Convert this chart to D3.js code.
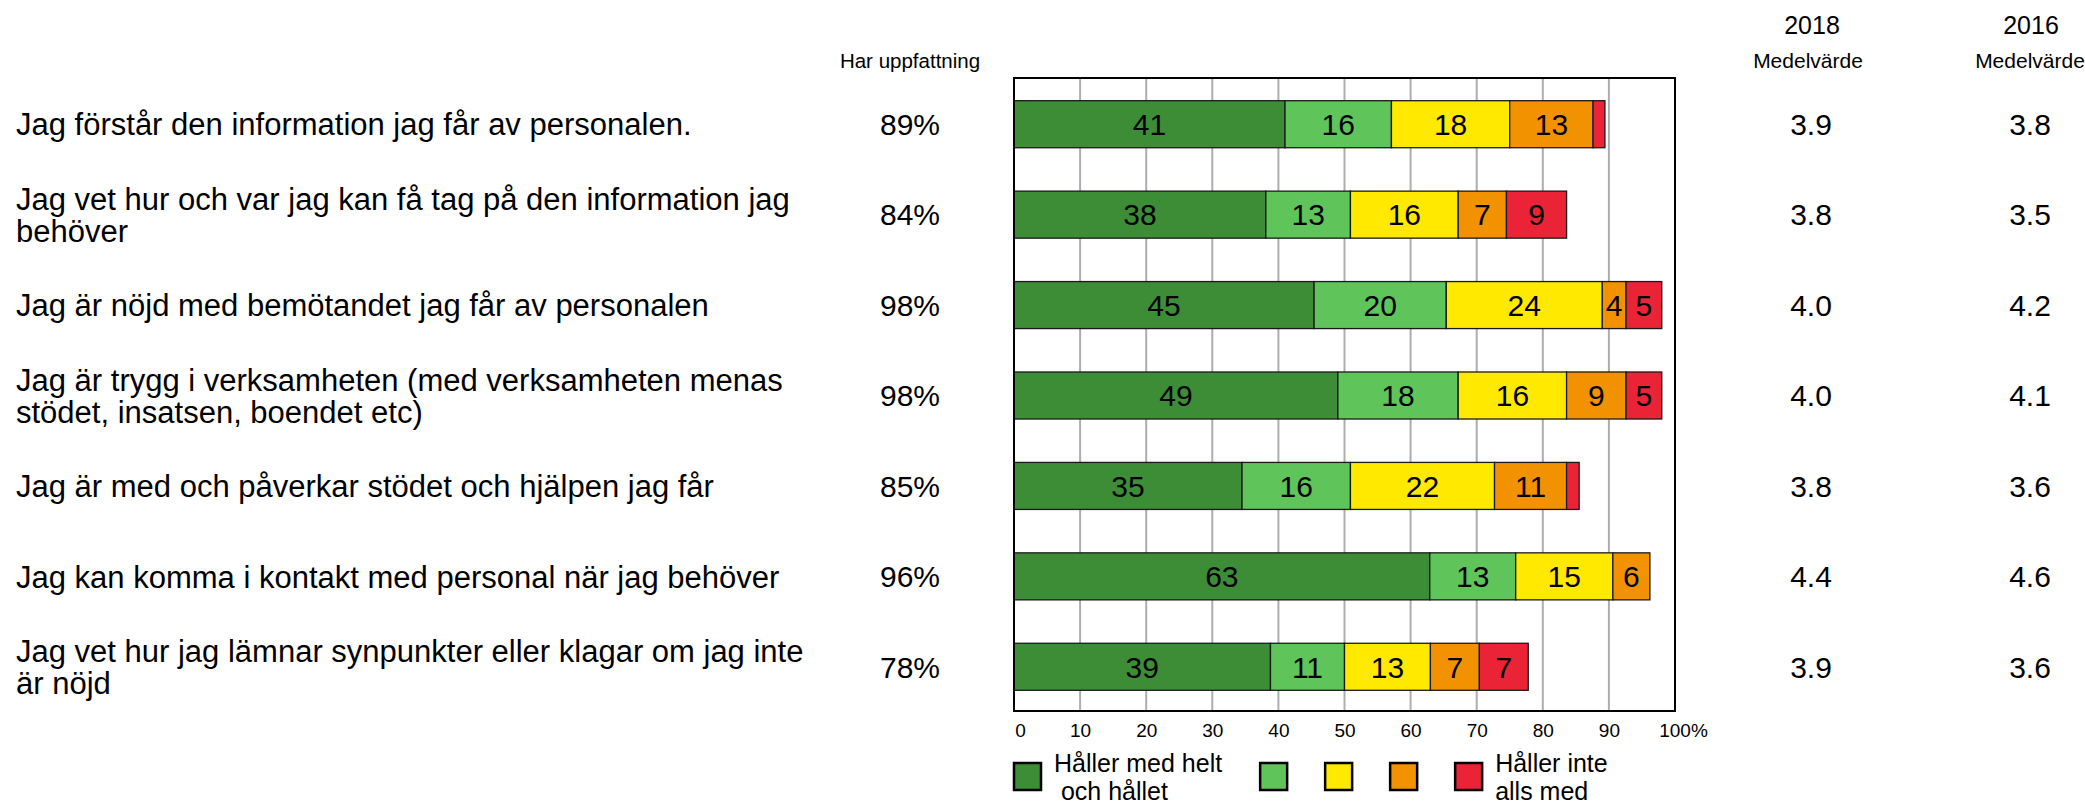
<!DOCTYPE html>
<html>
<head>
<meta charset="utf-8">
<script src="https://cdn.jsdelivr.net/npm/d3@7"></script>
<style>
  body { margin: 0; background: #fff; }
  svg text { font-family: "Liberation Sans", Arial, sans-serif; fill: #000; }
</style>
</head>
<body>
<svg id="chart" width="2085" height="804"></svg>
<script>

// questions, one or two lines each
var categories = [
  ["Jag förstår den information jag får av personalen."],
  ["Jag vet hur och var jag kan få tag på den information jag", "behöver"],
  ["Jag är nöjd med bemötandet jag får av personalen"],
  ["Jag är trygg i verksamheten (med verksamheten menas", "stödet, insatsen, boendet etc)"],
  ["Jag är med och påverkar stödet och hjälpen jag får"],
  ["Jag kan komma i kontakt med personal när jag behöver"],
  ["Jag vet hur jag lämnar synpunkter eller klagar om jag inte", "är nöjd"]
]

// answer shares in percent, from "helt och hållet" down to "inte alls"
var level1 = [41.0, 38.1, 45.4, 49.0, 34.5, 62.9, 38.8]
var level2 = [16.1, 12.8, 20.0, 18.2, 16.4, 13.0, 11.2]
var level3 = [17.9, 16.3, 23.6, 16.4, 21.8, 14.7, 13.0]
var level4 = [12.6, 7.3, 3.6, 9.0, 10.9, 5.6, 7.4]
var level5 = [1.8, 9.1, 5.4, 5.4, 1.9, 0, 7.4]

var har_uppfattning = [89, 84, 98, 98, 85, 96, 78]
var medel_2018 = ["3.9", "3.8", "4.0", "4.0", "3.8", "4.4", "3.9"]
var medel_2016 = ["3.8", "3.5", "4.2", "4.1", "3.6", "4.6", "3.6"]

var x_ticks = [0, 10, 20, 30, 40, 50, 60, 70, 80, 90, 100]
var legend_labels = [["Håller med helt", " och hållet"], [], [], [], ["Håller inte", "alls med"]]
var colors = ["#3d8d36", "#5fc55a", "#ffe900", "#f39200", "#ea2436"]

var keys = ["l1", "l2", "l3", "l4", "l5"]
var rows = categories.map(function(c, i){
  return {idx: i, l1: level1[i], l2: level2[i], l3: level3[i], l4: level4[i], l5: level5[i]}
})

var svg = d3.select("#chart")

var plot_top = 78, plot_bottom = 711
var x = d3.scaleLinear().domain([0, 100]).range([1014, 1675])
var y = d3.scaleBand().domain(d3.range(categories.length))
  .range([plot_top + 1, plot_bottom + 1])
  .paddingInner(0.48).paddingOuter(0.24)

// gridlines
svg.append("g").selectAll("line")
  .data(x_ticks.filter(function(d){ return d > 0 && d < 100 }))
  .join("line")
    .attr("x1", function(d){ return x(d) })
    .attr("x2", function(d){ return x(d) })
    .attr("y1", plot_top)
    .attr("y2", plot_bottom)
    .attr("stroke", "#adadad")
    .attr("stroke-width", 2)

// stacked bars
var series = d3.stack().keys(keys)(rows)

var layers = svg.append("g").selectAll("g")
  .data(series)
  .join("g")
    .attr("fill", function(d, i){ return colors[i] })

layers.selectAll("rect")
  .data(function(d){ return d.filter(function(s){ return s[1] - s[0] > 0 }) })
  .join("rect")
    .attr("x", function(d){ return x(d[0]) })
    .attr("y", function(d){ return y(d.data.idx) })
    .attr("width", function(d){ return x(d[1]) - x(d[0]) })
    .attr("height", y.bandwidth())
    .attr("stroke", "#1a1a1a")
    .attr("stroke-width", 1.3)

layers.selectAll("text")
  .data(function(d){ return d.filter(function(s){ return s[1] - s[0] >= 3 }) })
  .join("text")
    .attr("x", function(d){ return (x(d[0]) + x(d[1])) / 2 })
    .attr("y", function(d){ return y(d.data.idx) + y.bandwidth() / 2 })
    .attr("dy", "0.36em")
    .attr("text-anchor", "middle")
    .attr("font-size", 30)
    .text(function(d){ return Math.round(d[1] - d[0]) })

// plot frame
svg.append("rect")
  .attr("x", x(0))
  .attr("y", plot_top)
  .attr("width", x(100) - x(0))
  .attr("height", plot_bottom - plot_top)
  .attr("fill", "none")
  .attr("stroke", "#000")
  .attr("stroke-width", 2)

// x axis
var x_axis = svg.append("g")
  .attr("transform", "translate(0," + plot_bottom + ")")
  .call(d3.axisBottom(x)
    .tickValues(x_ticks)
    .tickSize(0)
    .tickPadding(13)
    .tickFormat(function(d){ return d == 100 ? "100%" : d }))
x_axis.select(".domain").remove()
x_axis.selectAll("text")
  .attr("font-size", 19)
  .attr("font-family", "Liberation Sans, Arial, sans-serif")
  .attr("dx", function(d){ return d == 100 ? 8 : (d == 0 ? 6 : 0) })

// question labels
var row_mid = function(i){ return y(i) + y.bandwidth() / 2 }
var line_h = 32

svg.append("g").selectAll("text")
  .data(categories)
  .join("text")
    .attr("font-size", 31)
    .attr("y", function(d, i){ return row_mid(i) - (d.length - 1) * line_h / 2 })
    .attr("dy", "0.36em")
    .each(function(d){
      var t = d3.select(this)
      d.forEach(function(line, k){
        t.append("tspan")
          .attr("x", 16)
          .attr("dy", k == 0 ? null : line_h)
          .text(line)
      })
    })

// side columns
function column(values, cx, fmt){
  svg.append("g").selectAll("text")
    .data(values)
    .join("text")
      .attr("x", cx)
      .attr("y", function(d, i){ return row_mid(i) })
      .attr("dy", "0.36em")
      .attr("text-anchor", "middle")
      .attr("font-size", 30)
      .text(fmt)
}
column(har_uppfattning, 910, function(d){ return d + "%" })
column(medel_2018, 1811, function(d){ return d })
column(medel_2016, 2030, function(d){ return d })

// headers
svg.append("text").attr("x", 910).attr("y", 68).attr("text-anchor", "middle")
  .attr("font-size", 20.5).text("Har uppfattning")
svg.append("text").attr("x", 1812).attr("y", 34).attr("text-anchor", "middle")
  .attr("font-size", 25).text("2018")
svg.append("text").attr("x", 1808).attr("y", 68).attr("text-anchor", "middle")
  .attr("font-size", 21).text("Medelvärde")
svg.append("text").attr("x", 2031).attr("y", 34).attr("text-anchor", "middle")
  .attr("font-size", 25).text("2016")
svg.append("text").attr("x", 2030).attr("y", 68).attr("text-anchor", "middle")
  .attr("font-size", 21).text("Medelvärde")

// legend
var legend = svg.append("g")
var lx = x(0)
legend_labels.forEach(function(lines, i){
  legend.append("rect")
    .attr("x", lx)
    .attr("y", 763)
    .attr("width", 27)
    .attr("height", 27)
    .attr("fill", colors[i])
    .attr("stroke", "#000")
    .attr("stroke-width", 2.5)
  lx += 27
  if (lines.length) {
    var t = legend.append("text").attr("font-size", 25)
    lines.forEach(function(line, k){
      t.append("tspan")
        .attr("x", lx + 13)
        .attr("y", 772 + k * 28)
        .style("white-space", "pre")
        .text(line)
    })
    lx += 13 + d3.max(t.selectAll("tspan").nodes(), function(n){ return n.getComputedTextLength() })
  }
  lx += 38
})

</script>
</body>
</html>
